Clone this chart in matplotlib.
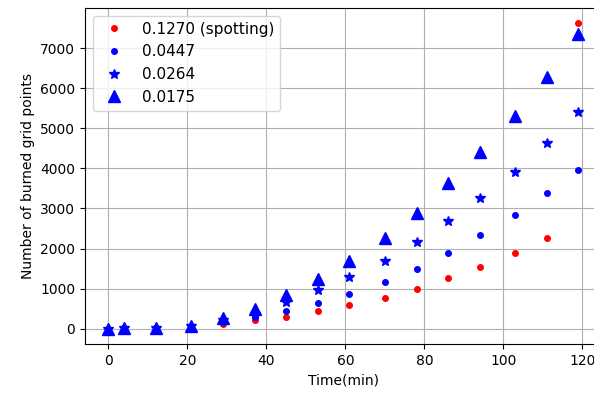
import numpy as np
import matplotlib
matplotlib.use("Agg")
import matplotlib.pyplot as plt

# time samples (min)
time_min = [0, 4, 12, 21, 29, 37, 45, 53, 61, 70, 78, 86, 94, 103, 111, 119]

# burned grid points per wind/slope case
burned_1270 = [0, 5, 10, 40, 130, 207, 290, 431, 581, 756, 990, 1255, 1546, 1887, 2252, 7620]
burned_0447 = [0, 5, 10, 55, 180, 300, 431, 631, 863, 1165, 1488, 1895, 2336, 2826, 3375, 3957]
burned_0264 = [0, 8, 15, 65, 225, 355, 673, 955, 1297, 1679, 2152, 2676, 3259, 3907, 4630, 5411]
burned_0175 = [0, 10, 20, 80, 260, 500, 830, 1229, 1686, 2262, 2885, 3633, 4406, 5295, 6276, 7349]

labels = ["0.1270 (spotting)", "0.0447", "0.0264", "0.0175"]

fig = plt.figure(figsize=(5.94, 3.94), dpi=100)
# axes run slightly past the right edge, as in the cropped original
ax = fig.add_axes([85 / 594, 50 / 394, 517 / 594, 336 / 394])

ax.plot(time_min, burned_1270, "o", color="red", markersize=4, label=labels[0])
ax.plot(time_min, burned_0447, "o", color="blue", markersize=4, label=labels[1])
ax.plot(time_min, burned_0264, "*", color="blue", markersize=7.5, label=labels[2])
ax.plot(time_min, burned_0175, "^", color="blue", markersize=8, label=labels[3])

ax.set_xlabel("Time(min)")
ax.set_ylabel("Number of burned grid points")
ax.set_xticks(np.arange(0, 121, 20))
ax.set_yticks(np.arange(0, 7001, 1000))
ax.grid(True)
ax.legend(loc="upper left", fontsize=11)

fig.savefig("out.png", dpi=100)
